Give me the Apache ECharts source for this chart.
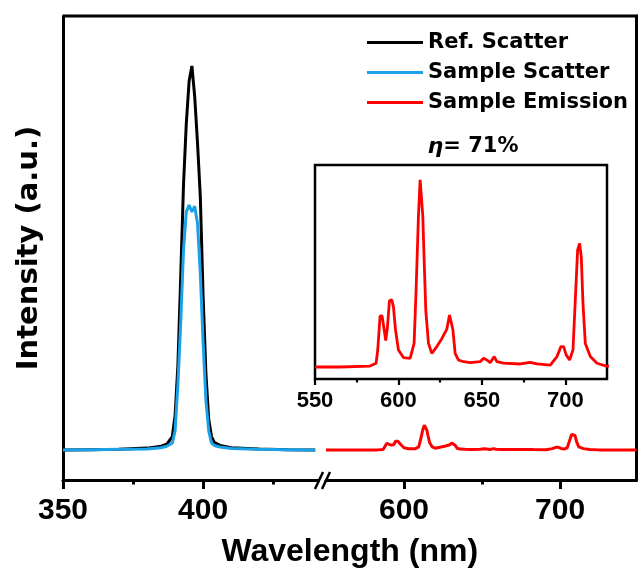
<!DOCTYPE html>
<html>
<head>
<meta charset="utf-8">
<script src="https://cdn.jsdelivr.net/npm/echarts@6/dist/echarts.min.js"></script>
<style>
  html, body { margin: 0; padding: 0; background: #fff; }
  #chart { width: 638px; height: 572px; }
</style>
</head>
<body>
<div id="chart"></div>
<script>
// scatter region (left part of the broken axis)
const scatterWl = [350, 360, 370, 380, 385, 387, 389, 390, 391, 392, 393, 394, 395, 396, 397, 398, 399, 400, 401, 402, 403, 404, 406, 410, 420, 430, 440]
const refScatter = [0, 0.001, 0.002, 0.005, 0.01, 0.015, 0.035, 0.09, 0.22, 0.45, 0.69, 0.85, 0.96, 1.0, 0.92, 0.8, 0.66, 0.4, 0.2, 0.08, 0.035, 0.02, 0.012, 0.006, 0.003, 0.001, 0]
const sampleScatter = [0, 0.001, 0.002, 0.003, 0.006, 0.01, 0.018, 0.05, 0.17, 0.33, 0.52, 0.62, 0.638, 0.62, 0.635, 0.59, 0.46, 0.28, 0.13, 0.05, 0.018, 0.012, 0.008, 0.004, 0.002, 0.001, 0]

// emission region (right part + inset), normalised to the 615 nm peak
const emissionWl = [550, 565, 583, 586.6, 587.6, 589, 590.2, 591.4, 592.4, 593.4, 594.6, 596, 597, 598.2, 600, 603, 607, 609.4, 610.6, 612, 613, 614, 614.6, 615.4, 616.4, 618, 620, 623, 626, 629, 630.6, 631.4, 632.6, 634, 636, 639, 643, 649, 651, 653, 655, 657.4, 659, 663, 673, 679, 683, 691, 695, 697.4, 699, 700.6, 702.6, 704.6, 706, 707.4, 708.6, 709.6, 710.6, 712, 715, 719, 724.6, 735, 749]
const emission = [0, 0, 0.005, 0.02, 0.09, 0.27, 0.27, 0.2, 0.14, 0.21, 0.35, 0.355, 0.32, 0.2, 0.09, 0.05, 0.046, 0.125, 0.41, 0.8, 0.99, 1.0, 0.8, 0.57, 0.3, 0.125, 0.072, 0.108, 0.15, 0.2, 0.275, 0.275, 0.2, 0.072, 0.037, 0.028, 0.023, 0.028, 0.046, 0.037, 0.023, 0.055, 0.028, 0.02, 0.016, 0.025, 0.016, 0.01, 0.055, 0.108, 0.108, 0.063, 0.037, 0.09, 0.355, 0.62, 0.654, 0.58, 0.337, 0.125, 0.055, 0.02, 0.005, 0.005, 0.005]

// tick labels
const leftMajor = [350, 400]
const leftMinor = [375, 425]
const rightMajor = [600, 700]
const rightMinor = [650]
const insetMajor = [550, 600, 650, 700]
const insetMinor = [575, 625, 675]

const seriesNames = ['Ref. Scatter', 'Sample Scatter', 'Sample Emission']
const colors = ['#000000', '#1ba1e8', '#ff0000']

const pairs = (xs, ys) => xs.map((x, i) => [x, ys[i]])

const ARIAL = '"Liberation Sans", Arial, sans-serif'
const DEJAVU = '"DejaVu Sans", sans-serif'

// layout
const TOP = 16
const AXIS_Y = 480
const LEFT_X = 63
const BREAK_L = 318
const BREAK_R = 326
const RIGHT_X = 636.5

const chart = echarts.init(document.getElementById('chart'))

// a pair of x axes: one with long ticks + labels, one overlay with short ticks
function tickAxes(gridIndex, min, max, major, minor, opts) {
  const base = {
    type: 'value',
    gridIndex: gridIndex,
    min: min,
    max: max,
    position: 'bottom',
    splitLine: { show: false }
  }
  return [
    {
      ...base,
      axisLine: { show: opts.line, onZero: false, lineStyle: { color: '#000', width: opts.width } },
      axisTick: { show: true, inside: false, customValues: major, length: opts.majorLen, lineStyle: { color: '#000', width: opts.width } },
      axisLabel: {
        show: true,
        customValues: major,
        margin: opts.margin,
        color: '#000',
        fontFamily: ARIAL,
        fontWeight: 'bold',
        fontSize: opts.fontSize
      }
    },
    {
      ...base,
      axisLine: { show: false, onZero: false },
      axisTick: { show: true, inside: false, customValues: minor, length: opts.minorLen, lineStyle: { color: '#000', width: opts.width } },
      axisLabel: { show: false }
    }
  ]
}

const mainTicks = { line: true, width: 3, majorLen: 9, minorLen: 4.5, margin: 16, fontSize: 30 }
const insetTicks = { line: false, width: 2.2, majorLen: 6, minorLen: 3.5, margin: 11, fontSize: 22 }

const option = {
  animation: false,
  backgroundColor: '#fff',
  grid: [
    { left: LEFT_X, top: TOP, width: BREAK_L - LEFT_X, height: AXIS_Y - TOP, outerBoundsMode: 'none' },
    { left: BREAK_R, top: TOP, width: RIGHT_X - BREAK_R, height: AXIS_Y - TOP, outerBoundsMode: 'none' },
    {
      left: 315, top: 165, width: 292, height: 214,
      show: true, borderColor: '#000', borderWidth: 2.5, backgroundColor: 'transparent',
      outerBoundsMode: 'none'
    }
  ],
  xAxis: [
    ...tickAxes(0, 350, 441, leftMajor, leftMinor, mainTicks),
    ...tickAxes(1, 550, 749, rightMajor, rightMinor, mainTicks),
    ...tickAxes(2, 550, 725, insetMajor, insetMinor, insetTicks)
  ],
  yAxis: [
    {
      type: 'value',
      gridIndex: 0,
      min: -0.078,
      max: 1.13,
      axisLine: { show: true, onZero: false, lineStyle: { color: '#000', width: 3 } },
      axisTick: { show: false },
      axisLabel: { show: false },
      splitLine: { show: false },
      name: 'Intensity (a.u.)',
      nameLocation: 'middle',
      nameGap: 19,
      nameTextStyle: { color: '#000', fontFamily: DEJAVU, fontWeight: 'bold', fontSize: 29 }
    },
    {
      type: 'value',
      gridIndex: 1,
      position: 'right',
      min: -1.2,
      max: 17.36,
      axisLine: { show: true, onZero: false, lineStyle: { color: '#000', width: 3 } },
      axisTick: { show: false },
      axisLabel: { show: false },
      splitLine: { show: false }
    },
    {
      type: 'value',
      gridIndex: 2,
      min: -0.0635,
      max: 1.069,
      axisLine: { show: false },
      axisTick: { show: false },
      axisLabel: { show: false },
      splitLine: { show: false }
    }
  ],
  legend: {
    data: seriesNames,
    orient: 'vertical',
    left: 362,
    top: 27,
    icon: 'rect',
    itemWidth: 56,
    itemHeight: 3,
    itemGap: 9,
    selectedMode: false,
    textStyle: { color: '#000', fontFamily: DEJAVU, fontWeight: 'bold', fontSize: 21 }
  },
  graphic: [
    // top border of the main frame
    { type: 'line', shape: { x1: LEFT_X, y1: TOP, x2: RIGHT_X + 1.5, y2: TOP }, style: { stroke: '#000', lineWidth: 3 } },
    // axis break marks
    { type: 'line', shape: { x1: 315, y1: 489, x2: 323, y2: 472 }, style: { stroke: '#000', lineWidth: 2.5 } },
    { type: 'line', shape: { x1: 322, y1: 489, x2: 330, y2: 472 }, style: { stroke: '#000', lineWidth: 2.5 } },
    {
      type: 'text',
      x: (LEFT_X + RIGHT_X) / 2,
      y: 552,
      style: {
        text: 'Wavelength (nm)',
        align: 'center',
        verticalAlign: 'middle',
        fill: '#000',
        font: 'bold 32px ' + ARIAL
      }
    },
    {
      type: 'text',
      x: 473,
      y: 147,
      style: {
        text: '{e|η}{t|= 71%}',
        align: 'center',
        verticalAlign: 'middle',
        rich: {
          e: { fontFamily: DEJAVU, fontStyle: 'italic', fontWeight: 'bold', fontSize: 22, fill: '#000' },
          t: { fontFamily: DEJAVU, fontWeight: 'bold', fontSize: 21, fill: '#000' }
        }
      }
    }
  ],
  series: [
    {
      name: seriesNames[0],
      type: 'line',
      xAxisIndex: 0,
      yAxisIndex: 0,
      data: pairs(scatterWl, refScatter),
      showSymbol: false,
      itemStyle: { color: colors[0] },
      lineStyle: { color: colors[0], width: 3 }
    },
    {
      name: seriesNames[1],
      type: 'line',
      xAxisIndex: 0,
      yAxisIndex: 0,
      data: pairs(scatterWl, sampleScatter),
      showSymbol: false,
      itemStyle: { color: colors[1] },
      lineStyle: { color: colors[1], width: 3 }
    },
    {
      name: seriesNames[2],
      type: 'line',
      xAxisIndex: 2,
      yAxisIndex: 1,
      data: pairs(emissionWl, emission),
      showSymbol: false,
      itemStyle: { color: colors[2] },
      lineStyle: { color: colors[2], width: 3 }
    },
    {
      name: seriesNames[2],
      type: 'line',
      xAxisIndex: 4,
      yAxisIndex: 2,
      data: pairs(emissionWl, emission),
      showSymbol: false,
      clip: true,
      itemStyle: { color: colors[2] },
      lineStyle: { color: colors[2], width: 2.8 }
    }
  ]
}

chart.setOption(option)
</script>
</body>
</html>
